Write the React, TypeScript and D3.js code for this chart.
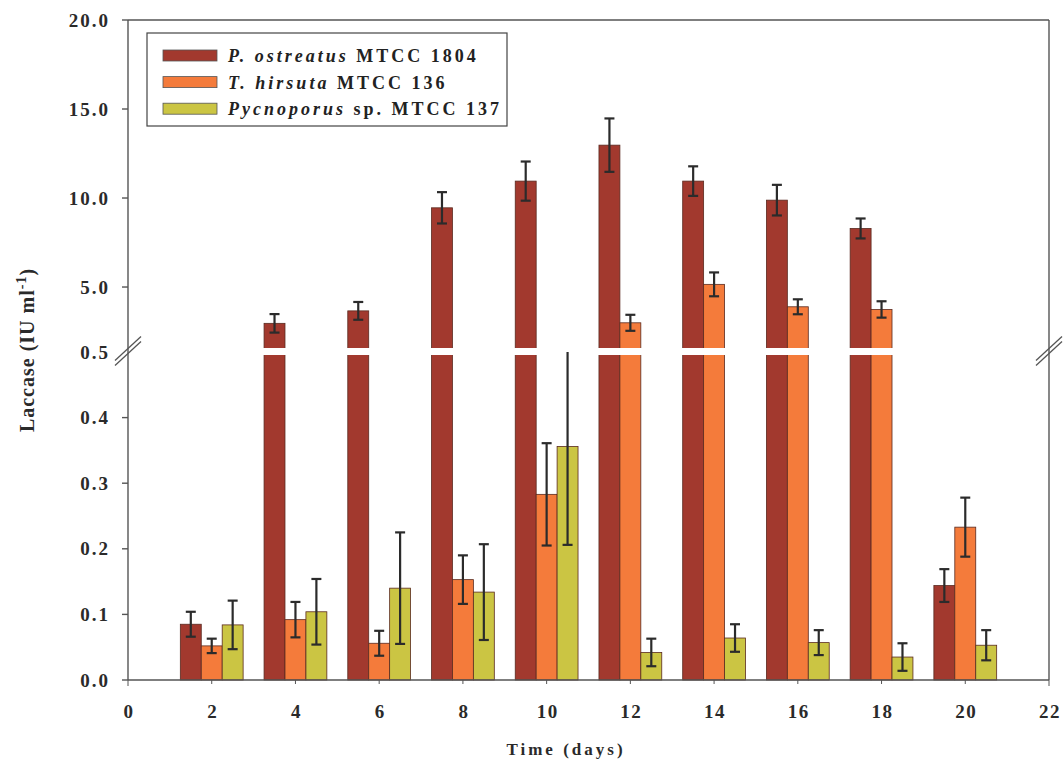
import React, { useEffect, useRef } from 'react';
import * as d3 from 'd3';

// sampling days
const days = [2, 4, 6, 8, 10, 12, 14, 16, 18, 20];

// laccase activity (IU/ml) and standard deviations
const ostreatus = [0.085, 2.96, 3.66, 9.45, 10.95, 12.97, 10.95, 9.88, 8.29, 0.144];
const ostreatusSd = [0.019, 0.52, 0.5, 0.88, 1.1, 1.5, 0.83, 0.86, 0.56, 0.025];
const hirsuta = [0.052, 0.092, 0.056, 0.153, 0.283, 2.99, 5.15, 3.89, 3.74, 0.233];
const hirsutaSd = [0.011, 0.027, 0.019, 0.037, 0.078, 0.45, 0.67, 0.42, 0.46, 0.045];
const pycnoporus = [0.084, 0.104, 0.14, 0.134, 0.356, 0.042, 0.064, 0.057, 0.035, 0.053];
const pycnoporusSd = [0.037, 0.05, 0.085, 0.073, 0.15, 0.021, 0.021, 0.019, 0.021, 0.023];

const speciesNames = ['P. ostreatus', 'T. hirsuta', 'Pycnoporus'];
const strainLabels = [' MTCC 1804', ' MTCC 136', ' sp. MTCC 137'];
const speciesColors = ['#a2392e', '#f47b3b', '#cbc543'];

const xTicks = [0, 2, 4, 6, 8, 10, 12, 14, 16, 18, 20, 22];
const lowerTicks = [0, 0.1, 0.2, 0.3, 0.4];
const upperTicks = [5, 10, 15, 20];
const breakLabel = 0.5;

export default function App() {
    const ref = useRef<SVGSVGElement>(null);

    useEffect(() => {
        drawChart();
    });

    function drawChart() {
        const svg = d3.select(ref.current);
        svg.selectAll('*').remove();

        const font = '"Liberation Serif", "Times New Roman", serif';
        const axisColor = '#555';
        const breakY = 352;

        const x = d3.scaleLinear().domain([0, 22]).range([128, 1049]);
        const yLow = d3.scaleLinear().domain([0, 0.5]).range([680, breakY]);
        const yHigh = d3.scaleLinear().domain([1.35, 20]).range([breakY, 20]);
        const yPos = (v: number) => (v <= 0.5 ? yLow(v) : yHigh(Math.max(v, 1.35)));

        const barW = x(0.5) - x(0);

        const series = [
            { values: ostreatus, sd: ostreatusSd },
            { values: hirsuta, sd: hirsutaSd },
            { values: pycnoporus, sd: pycnoporusSd },
        ];

        // bars
        series.forEach((s, si) => {
            const g = svg.append('g');
            g.selectAll('rect')
                .data(s.values)
                .enter()
                .append('rect')
                .attr('x', (_, i) => x(days[i]) + (si - 1.5) * barW)
                .attr('width', barW)
                .attr('y', (d) => yPos(d))
                .attr('height', (d) => 680 - yPos(d))
                .style('fill', speciesColors[si])
                .style('stroke', '#5a2a20')
                .style('stroke-width', 0.8);
        });

        // white gap for the axis break
        svg.append('rect')
            .attr('x', x(0) + 1)
            .attr('width', x(22) - x(0) - 2)
            .attr('y', breakY - 4)
            .attr('height', 7)
            .style('fill', '#fff');

        // error bars
        series.forEach((s, si) => {
            s.values.forEach((v, i) => {
                const cx = x(days[i]) + (si - 1) * barW;
                let hi = v + s.sd[i];
                const lo = v - s.sd[i];
                let capTop = true;
                if (v <= 0.5 && hi > 0.5) {
                    hi = 0.5;
                    capTop = false;
                }
                const yTop = v <= 0.5 ? yLow(hi) : yHigh(hi);
                const yBot = v <= 0.5 ? yLow(lo) : yHigh(lo);
                const g = svg.append('g').style('stroke', '#2b2b2b').style('stroke-width', 2.2);
                g.append('line').attr('x1', cx).attr('x2', cx).attr('y1', yTop).attr('y2', yBot);
                if (capTop) {
                    g.append('line').attr('x1', cx - 5).attr('x2', cx + 5).attr('y1', yTop).attr('y2', yTop);
                }
                g.append('line').attr('x1', cx - 5).attr('x2', cx + 5).attr('y1', yBot).attr('y2', yBot);
            });
        });

        // frame
        const frame = svg.append('g').style('stroke', axisColor).style('stroke-width', 1.4).style('fill', 'none');
        frame.append('line').attr('x1', x(0)).attr('x2', x(0)).attr('y1', 20).attr('y2', 680);
        frame.append('line').attr('x1', x(22)).attr('x2', x(22)).attr('y1', 20).attr('y2', 680);
        frame.append('line').attr('x1', x(0)).attr('x2', x(22)).attr('y1', 20).attr('y2', 20);
        frame.append('line').attr('x1', x(0)).attr('x2', x(22)).attr('y1', 680).attr('y2', 680);

        // axis break marks
        [x(0), x(22)].forEach((ax) => {
            [-2.5, 2.5].forEach((off) => {
                frame.append('line')
                    .attr('x1', ax - 13).attr('y1', breakY + 11 + off)
                    .attr('x2', ax + 13).attr('y2', breakY - 13 + off)
                    .style('stroke-width', 1.3);
            });
        });

        // y ticks and labels
        const yTickData = [
            ...lowerTicks.map((t) => ({ y: yLow(t), label: t.toFixed(1) })),
            { y: breakY, label: breakLabel.toFixed(1), noTick: true },
            ...upperTicks.map((t) => ({ y: yHigh(t), label: t.toFixed(1) })),
        ];
        yTickData.forEach((t) => {
            if (!t.noTick) {
                frame.append('line').attr('x1', x(0) - 6).attr('x2', x(0)).attr('y1', t.y).attr('y2', t.y);
            }
            svg.append('text')
                .attr('x', 110)
                .attr('y', t.y + 6.5)
                .attr('text-anchor', 'end')
                .style('font-family', font)
                .style('font-weight', 'bold')
                .style('font-size', '19px')
                .style('letter-spacing', '2px')
                .style('fill', '#2a2a2a')
                .text(t.label);
        });

        // x ticks and labels
        xTicks.forEach((t) => {
            frame.append('line').attr('x1', x(t)).attr('x2', x(t)).attr('y1', 680).attr('y2', t === 22 || t === 0 ? 686 : 684)
                .style('stroke-width', 1);
            svg.append('text')
                .attr('x', x(t) + 1)
                .attr('y', 718)
                .attr('text-anchor', 'middle')
                .style('font-family', font)
                .style('font-weight', 'bold')
                .style('font-size', '19px')
                .style('letter-spacing', '1.5px')
                .style('fill', '#2a2a2a')
                .text(t);
        });

        // axis titles
        svg.append('text')
            .attr('x', 566)
            .attr('y', 755)
            .attr('text-anchor', 'middle')
            .style('font-family', font)
            .style('font-weight', 'bold')
            .style('font-size', '17px')
            .style('letter-spacing', '3px')
            .style('fill', '#2a2a2a')
            .text('Time (days)');

        const yTitle = svg.append('text')
            .attr('transform', 'translate(34, 350) rotate(-90)')
            .attr('text-anchor', 'middle')
            .style('font-family', font)
            .style('font-weight', 'bold')
            .style('font-size', '20px')
            .style('letter-spacing', '1px')
            .style('fill', '#2a2a2a');
        yTitle.append('tspan').text('Laccase (IU ml');
        yTitle.append('tspan').attr('dy', -8).style('font-size', '14px').text('-1');
        yTitle.append('tspan').attr('dy', 8).text(')');

        // legend
        const legend = svg.append('g');
        legend.append('rect')
            .attr('x', 147).attr('y', 33).attr('width', 360).attr('height', 93)
            .style('fill', '#fff').style('stroke', '#444').style('stroke-width', 1.2);
        speciesNames.forEach((name, i) => {
            const cy = 55.5 + i * 26.6;
            legend.append('rect')
                .attr('x', 163).attr('y', cy - 5.5).attr('width', 54).attr('height', 11)
                .style('fill', speciesColors[i]).style('stroke', '#555').style('stroke-width', 0.8);
            const txt = legend.append('text')
                .attr('x', 228).attr('y', cy + 6.5)
                .style('font-family', font)
                .style('font-weight', 'bold')
                .style('font-size', '18px')
                .style('letter-spacing', '3px')
                .style('fill', '#222');
            txt.append('tspan').style('font-style', 'italic').text(name);
            txt.append('tspan').text(strainLabels[i]);
        });
    }

    return (
        <svg
            ref={ref}
            width={1063}
            height={764}
            style={{ position: 'absolute', left: 0, top: 0, background: '#fff' }}
        />
    );
}
